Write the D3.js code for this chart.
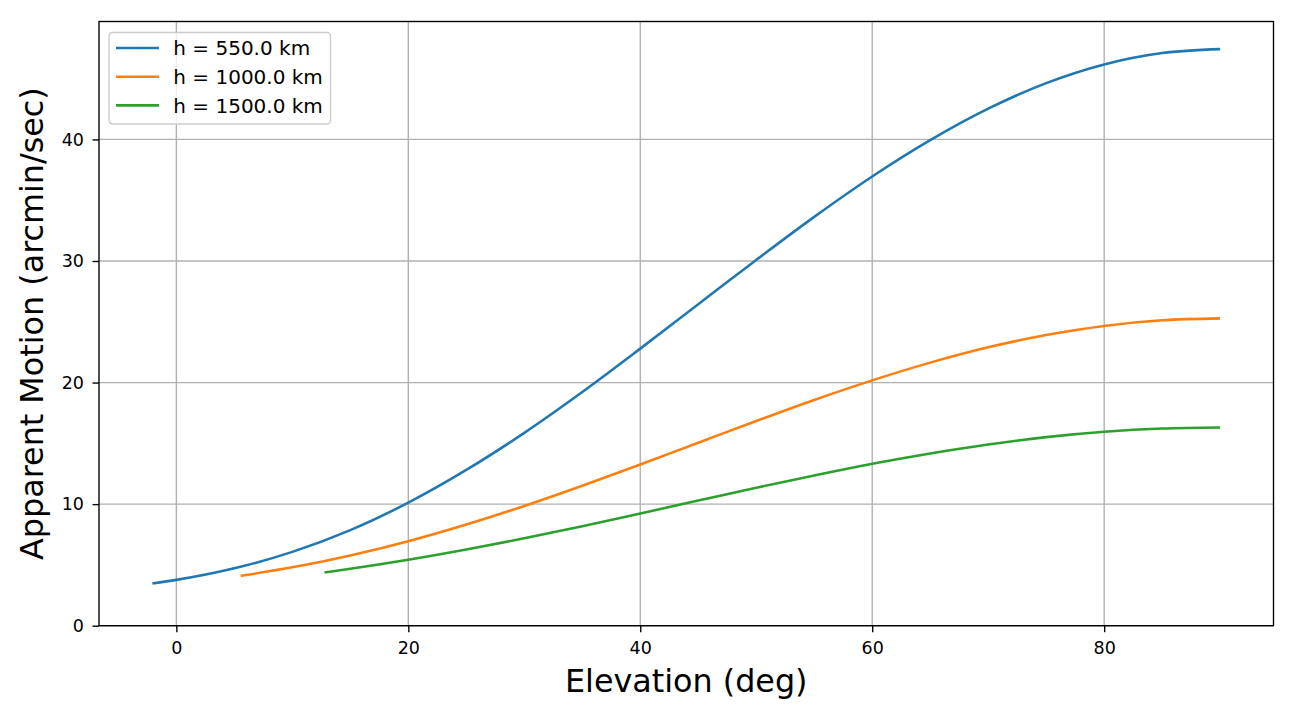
<!DOCTYPE html>
<html><head><meta charset="utf-8">
<script src="https://cdn.jsdelivr.net/npm/d3@7"></script>
<style>body{margin:0;background:#fff;} svg{display:block;font-family:"DejaVu Sans",sans-serif;}</style>
</head><body>
<svg id="c" width="1296" height="720"></svg>
<script>
const seriesNames = ["h = 550.0 km", "h = 1000.0 km", "h = 1500.0 km"];
const seriesColors = ["#1f77b4", "#ff7f0e", "#2ca02c"];
const elev550 = [-2.07, 0, 5, 10, 15, 20, 25, 30, 35, 40, 45, 50, 55, 60, 65, 70, 75, 80, 85, 90];
const rate550 = [3.48, 3.77, 4.72, 6.07, 7.86, 10.12, 12.81, 15.86, 19.22, 22.79, 26.44, 30.09, 33.63, 36.95, 39.94, 42.53, 44.63, 46.17, 47.11, 47.43];
const elev1000 = [5.54, 10, 15, 20, 25, 30, 35, 40, 45, 50, 55, 60, 65, 70, 75, 80, 85, 90];
const rate1000 = [4.10, 4.80, 5.78, 6.95, 8.32, 9.85, 11.51, 13.26, 15.05, 16.84, 18.57, 20.18, 21.64, 22.90, 23.91, 24.66, 25.12, 25.28];
const elev1500 = [12.77, 15, 20, 25, 30, 35, 40, 45, 50, 55, 60, 65, 70, 75, 80, 85, 90];
const rate1500 = [4.38, 4.68, 5.42, 6.26, 7.19, 8.18, 9.23, 10.29, 11.35, 12.36, 13.32, 14.17, 14.91, 15.51, 15.95, 16.22, 16.31];
const xTicks = [0, 20, 40, 60, 80];
const yTicks = [0, 10, 20, 30, 40];

const svg = d3.select("#c");
const L = 99, R = 1273.5, T = 21.5, B = 625.7;
const x = d3.scaleLinear().domain([-6.67, 94.6]).range([L, R]);
const y = d3.scaleLinear().domain([0, 49.7]).range([B, T]);

// grid
const g = svg.append("g");
g.selectAll(".gx").data(xTicks).enter().append("line")
  .attr("x1", d => x(d)).attr("x2", d => x(d)).attr("y1", T).attr("y2", B)
  .attr("stroke", "#b0b0b0").attr("stroke-width", 1.37);
g.selectAll(".gy").data(yTicks).enter().append("line")
  .attr("y1", d => y(d)).attr("y2", d => y(d)).attr("x1", L).attr("x2", R)
  .attr("stroke", "#b0b0b0").attr("stroke-width", 1.37);

// lines
const series = [
  {xs: elev550, ys: rate550},
  {xs: elev1000, ys: rate1000},
  {xs: elev1500, ys: rate1500}
];
const line = d3.line().x(d => x(d[0])).y(d => y(d[1])).curve(d3.curveMonotoneX);
series.forEach((s, i) => {
  svg.append("path").datum(s.xs.map((v, j) => [v, s.ys[j]]))
    .attr("d", line).attr("fill", "none").attr("stroke", seriesColors[i])
    .attr("stroke-width", 2.56).attr("stroke-linecap", "butt");
});

// axes
const xAxis = svg.append("g").attr("transform", `translate(0,${B})`)
  .call(d3.axisBottom(x).tickValues(xTicks).tickSize(6.5).tickPadding(6).tickFormat(d3.format("d")));
const yAxis = svg.append("g").attr("transform", `translate(${L},0)`)
  .call(d3.axisLeft(y).tickValues(yTicks).tickSize(6.5).tickPadding(8.5).tickFormat(d3.format("d")));
[xAxis, yAxis].forEach(a => {
  a.select(".domain").remove();
  a.selectAll("line").attr("stroke", "#000").attr("stroke-width", 1.37);
  a.selectAll("text").attr("font-size", "17.5px").attr("font-family", "DejaVu Sans").attr("fill", "#000");
});
xAxis.selectAll("text").attr("dy", null).attr("y", 28.8);

// frame
svg.append("rect").attr("x", L).attr("y", T).attr("width", R - L).attr("height", B - T)
  .attr("fill", "none").attr("stroke", "#000").attr("stroke-width", 1.37);

// axis labels
svg.append("text").attr("x", (L + R) / 2).attr("y", 692).attr("text-anchor", "middle")
  .attr("font-size", "31.8px").text("Elevation (deg)");
svg.append("text").attr("transform", `translate(43,${(T + B) / 2}) rotate(-90)`)
  .attr("text-anchor", "middle").attr("font-size", "31.8px").text("Apparent Motion (arcmin/sec)");

// legend
const lg = svg.append("g").attr("transform", "translate(109,32.5)");
lg.append("rect").attr("width", 221.5).attr("height", 91.5).attr("rx", 3.5)
  .attr("fill", "#fff").attr("fill-opacity", 0.8).attr("stroke", "#cccccc").attr("stroke-width", 1.37);
seriesNames.forEach((n, i) => {
  const yy = 15.5 + i * 28.7;
  lg.append("line").attr("x1", 7).attr("x2", 50).attr("y1", yy).attr("y2", yy)
    .attr("stroke", seriesColors[i]).attr("stroke-width", 2.56);
  lg.append("text").attr("x", 64.3).attr("y", yy + 7.2).attr("font-size", "20px").text(n);
});
</script>
</body></html>
